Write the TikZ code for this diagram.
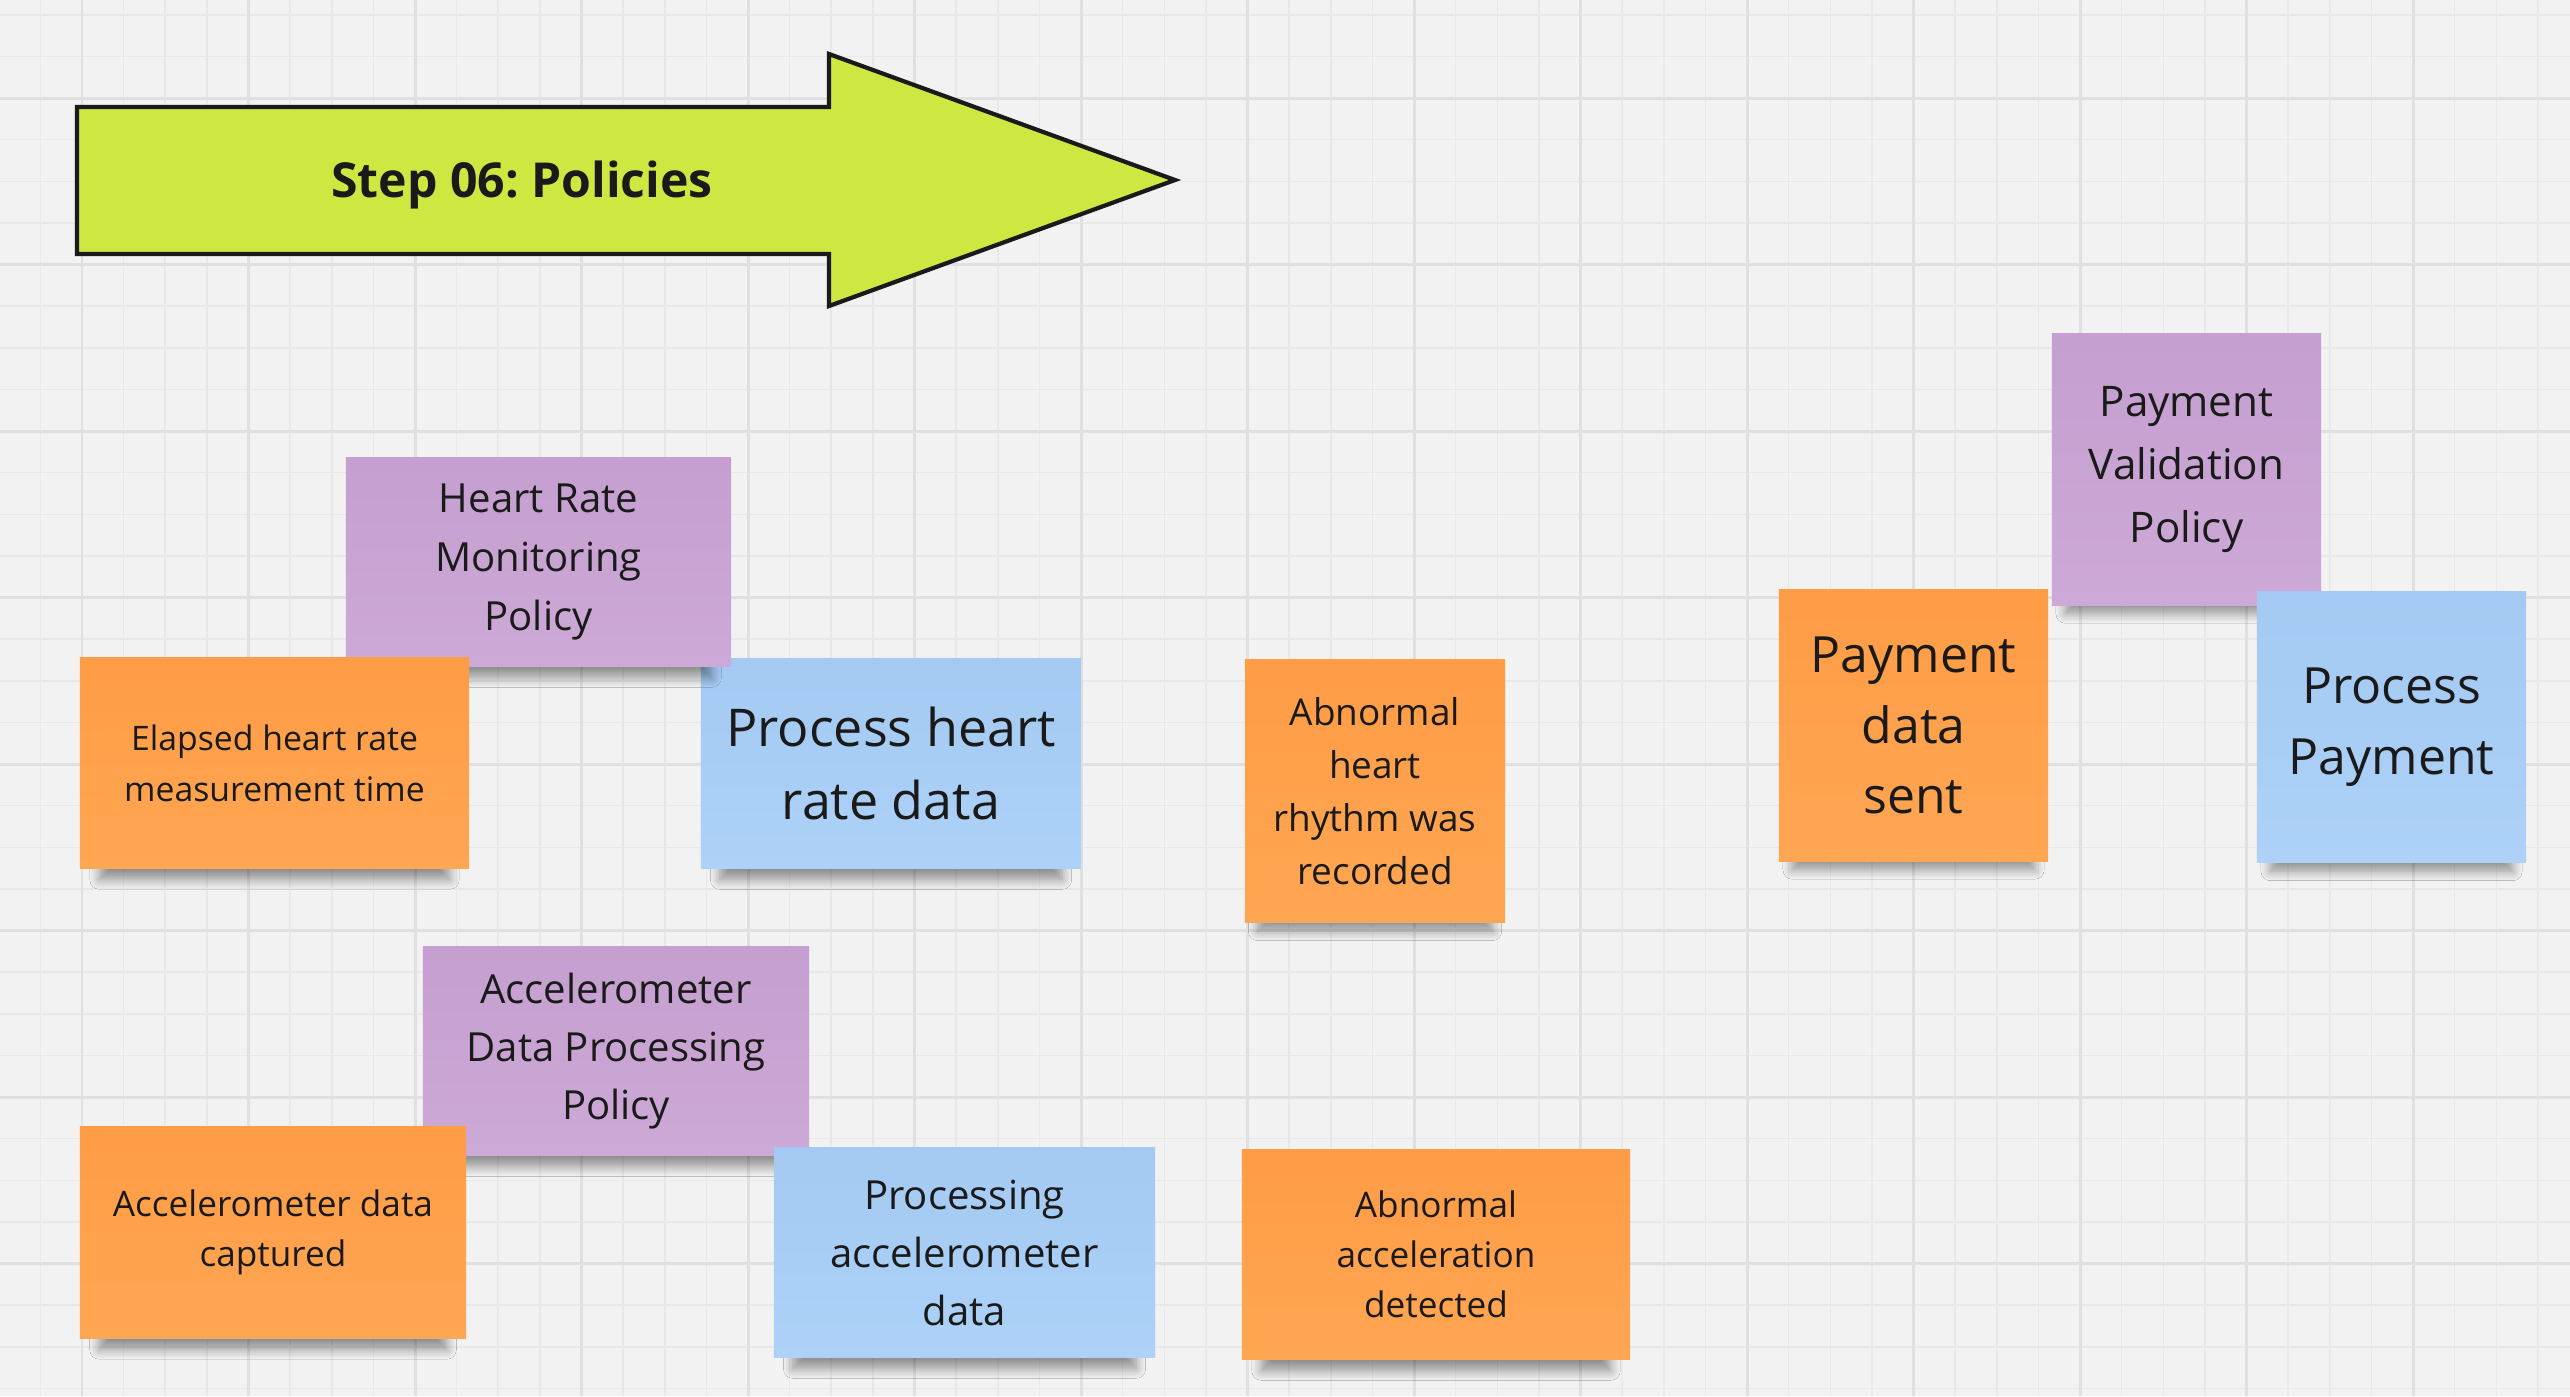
\documentclass[tikz,border=0pt]{standalone}
\usepackage{fontspec}
\setmainfont{Open Sans}
\frenchspacing
\usetikzlibrary{shadows.blur}
\definecolor{boardbg}{HTML}{F2F2F2}
\definecolor{gridminor}{HTML}{E8E8E8}
\definecolor{gridmajor}{HTML}{E0E0E0}
\definecolor{steplime}{HTML}{CEE741}
\definecolor{inkdark}{HTML}{1A1A1A}
\definecolor{evtorange}{HTML}{FF9C46}
\definecolor{evtorangelt}{HTML}{FFA653}
\definecolor{polviolet}{HTML}{C49FCF}
\definecolor{polvioletlt}{HTML}{CDA9D7}
\definecolor{cmdblue}{HTML}{A4CAF3}
\definecolor{cmdbluelt}{HTML}{ADD1F7}
\tikzset{
  sticky/.style={inner sep=0pt, align=center, text=inkdark,
    blur shadow={shadow xshift=0pt, shadow yshift=-7pt, shadow scale=0.9,
      shadow blur radius=3pt, shadow blur steps=10, shadow opacity=40}},
  event/.style={sticky, top color=evtorange, bottom color=evtorangelt},
  policy/.style={sticky, top color=polviolet, bottom color=polvioletlt},
  command/.style={sticky, top color=cmdblue, bottom color=cmdbluelt},
}
\begin{document}
\begin{tikzpicture}[x=0.01cm,y=-0.01cm]
\useasboundingbox (0,0) rectangle (2570,1396);
\fill[boardbg] (0,0) rectangle (2570,1396);
\begin{scope}
\clip (0,0) rectangle (2570,1396);
\foreach \gk in {0,...,61} \draw[gridminor, line width=0.45pt] ({40.4+41.625*\gk},0) -- ({40.4+41.625*\gk},1396);
\foreach \gk in {0,...,33} \draw[gridminor, line width=0.45pt] (0,{14.8+41.625*\gk}) -- (2570,{14.8+41.625*\gk});
\foreach \gk in {0,...,15} \draw[gridmajor, line width=0.85pt] ({82+166.5*\gk},0) -- ({82+166.5*\gk},1396);
\foreach \gk in {0,...,7} \draw[gridmajor, line width=0.85pt] (0,{98+166.5*\gk}) -- (2570,{98+166.5*\gk});
\end{scope}

% step banner
\draw[line width=1.2pt, draw=inkdark, fill=steplime] (77,107) -- (829,107) -- (829,54) -- (1175,180)
  -- (829,306) -- (829,254) -- (77,254) -- cycle;
\node[font=\bfseries\fontsize{13.7}{16}\selectfont, text=inkdark] (steptitle) at (522,185) {Step 06: Policies};

% heart rate
\node[command, minimum width=3.80cm, minimum height=2.09cm, font=\fontsize{14.8}{21}\selectfont] (hrProcess) at (891,763.5) {Process heart\\rate data};
\node[policy, minimum width=3.85cm, minimum height=2.08cm, font=\fontsize{11.4}{16.8}\selectfont] (hrPolicy) at (538.5,562) {Heart Rate\\Monitoring\\Policy};
\node[event, minimum width=3.89cm, minimum height=2.10cm, font=\fontsize{9.6}{14.4}\selectfont] (hrElapsed) at (274.5,763) {Elapsed heart rate\\measurement time};
\node[event, minimum width=2.60cm, minimum height=2.62cm, font=\fontsize{10.5}{15.1}\selectfont] (hrAbnormal) at (1375,791) {Abnormal\\heart\\rhythm was\\recorded};

% payment
\node[policy, minimum width=2.69cm, minimum height=2.71cm, font=\fontsize{12}{17.8}\selectfont] (payPolicy) at (2186.5,469.5) {Payment\\Validation\\Policy};
\node[event, minimum width=2.69cm, minimum height=2.71cm, font=\fontsize{14.2}{20}\selectfont] (paySent) at (1913.5,725.5) {Payment\\data\\sent};
\node[command, minimum width=2.69cm, minimum height=2.71cm, font=\fontsize{14.2}{20.2}\selectfont] (payProcess) at (2391.5,727) {Process\\Payment};

% accelerometer
\node[policy, minimum width=3.86cm, minimum height=2.08cm, font=\fontsize{11.4}{16.6}\selectfont] (accPolicy) at (616,1051) {Accelerometer\\Data Processing\\Policy};
\node[event, minimum width=3.86cm, minimum height=2.11cm, font=\fontsize{10}{14.2}\selectfont] (accCaptured) at (273,1232.5) {Accelerometer data\\captured};
\node[command, minimum width=3.81cm, minimum height=2.09cm, font=\fontsize{11.4}{16.5}\selectfont] (accProcess) at (964.5,1252.5) {Processing\\accelerometer\\data};
\node[event, minimum width=3.88cm, minimum height=2.09cm, font=\fontsize{10}{14.2}\selectfont] (accAbnormal) at (1436,1254.5) {Abnormal\\acceleration\\detected};
\end{tikzpicture}
\end{document}
